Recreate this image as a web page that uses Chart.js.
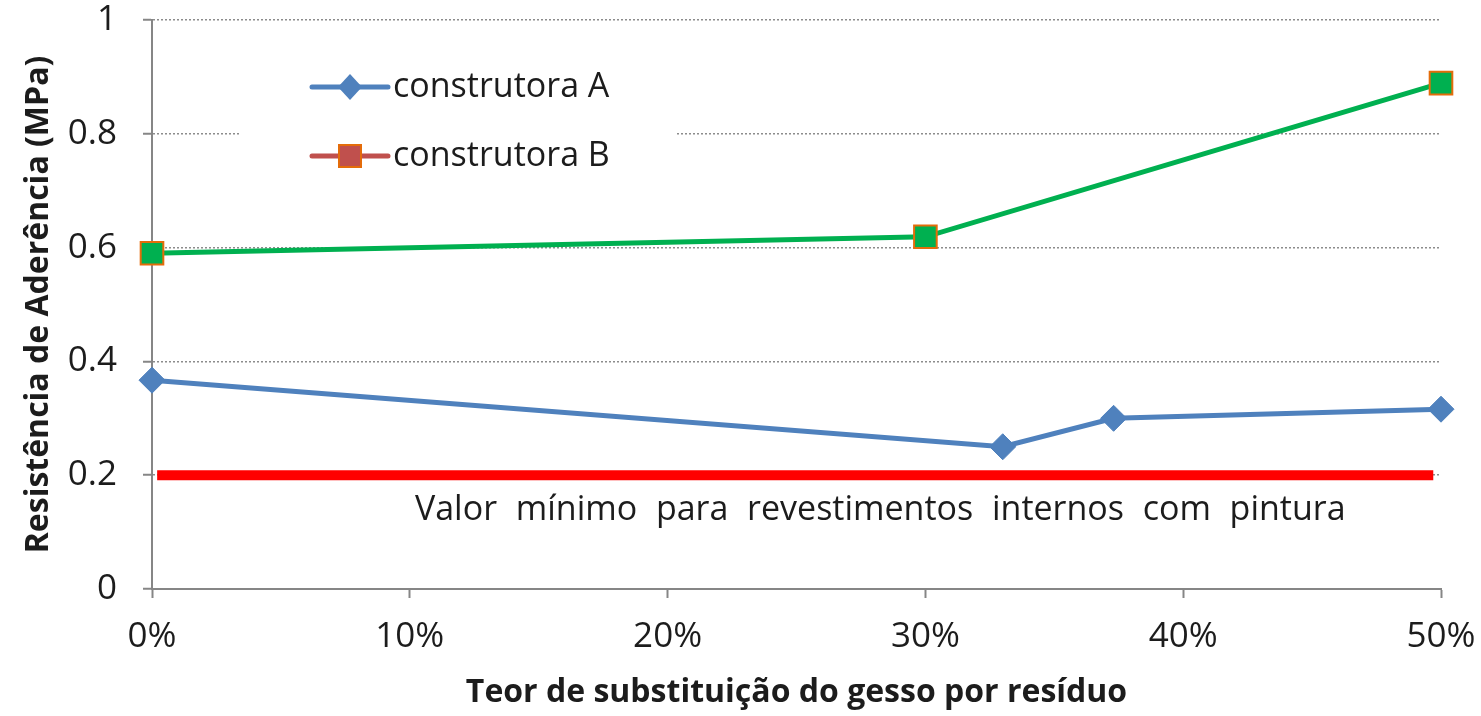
<!DOCTYPE html>
<html>
<head>
<meta charset="utf-8">
<script src="https://cdn.jsdelivr.net/npm/chart.js@4.4.0/dist/chart.umd.min.js"></script>
<style>
  html, body { margin: 0; padding: 0; background: #fff; }
  #wrap { width: 1481px; height: 716px; }
</style>
</head>
<body>
<div id="wrap"><canvas id="c"></canvas></div>
<script>
// Data
const xTicks = [0, 10, 20, 30, 40, 50];              // % substitution
const yTicks = [0, 0.2, 0.4, 0.6, 0.8, 1];
const construtoraA_x = [0, 33, 37.3, 50];
const construtoraA_y = [0.367, 0.25, 0.30, 0.316];
const construtoraB_x = [0, 30, 50];
const construtoraB_y = [0.59, 0.619, 0.889];
const minimo_x = [0.2, 49.7];
const minimo_y = [0.2, 0.2];
const minimoLabel = 'Valor mínimo para revestimentos internos com pintura';
const legendLabels = ['construtora A', 'construtora B'];

const FONT = '"Open Sans", sans-serif';
const TXT = '#1c1c1c';
const BLUE = '#4f81bd';
const GREEN = '#00b050';
const ORANGE = '#e46c0a';
const RED_LEG = '#c0504d';

const pts = (xs, ys) => xs.map((x, i) => ({ x: x, y: ys[i] }));

// legend drawn inside the plot, like the original
const insideLegend = {
    id: 'insideLegend',
    afterDatasetsDraw(chart) {
        const ctx = chart.ctx;
        ctx.save();
        ctx.fillStyle = '#fff';
        ctx.fillRect(240, 55, 435, 135);
        const rows = [
            { y: 87, color: BLUE, shape: 'diamond' },
            { y: 156, color: RED_LEG, shape: 'square' }
        ];
        rows.forEach((r, i) => {
            ctx.strokeStyle = r.color;
            ctx.lineWidth = 5;
            ctx.lineCap = 'round';
            ctx.beginPath();
            ctx.moveTo(312, r.y);
            ctx.lineTo(388, r.y);
            ctx.stroke();
            ctx.fillStyle = r.color;
            if (r.shape === 'diamond') {
                ctx.beginPath();
                ctx.moveTo(350, r.y - 13);
                ctx.lineTo(362, r.y);
                ctx.lineTo(350, r.y + 13);
                ctx.lineTo(338, r.y);
                ctx.closePath();
                ctx.fill();
            } else {
                ctx.fillRect(339, r.y - 11, 22, 22);
                ctx.strokeStyle = ORANGE;
                ctx.lineWidth = 2;
                ctx.strokeRect(339, r.y - 11, 22, 22);
            }
            ctx.fillStyle = TXT;
            ctx.font = '34px ' + FONT;
            ctx.textBaseline = 'middle';
            ctx.textAlign = 'left';
            ctx.fillText(legendLabels[i], 393, r.y);
        });
        ctx.restore();
    }
};

// text under the minimum line, words spread between two x values
const minimoText = {
    id: 'minimoText',
    afterDatasetsDraw(chart) {
        const { ctx, scales } = chart;
        const x0 = scales.x.getPixelForValue(10.2);
        const x1 = scales.x.getPixelForValue(46.3);
        const y = scales.y.getPixelForValue(0.138);
        ctx.save();
        ctx.font = '34px ' + FONT;
        ctx.fillStyle = TXT;
        ctx.textBaseline = 'middle';
        ctx.textAlign = 'left';
        const words = minimoLabel.split(' ');
        const total = words.reduce((s, w) => s + ctx.measureText(w).width, 0);
        const gap = (x1 - x0 - total) / (words.length - 1);
        let x = x0;
        words.forEach(w => {
            ctx.fillText(w, x, y);
            x += ctx.measureText(w).width + gap;
        });
        ctx.restore();
    }
};

new Chart(document.getElementById('c'), {
    type: 'scatter',
    data: {
        datasets: [
            {
                label: 'minimo',
                data: pts(minimo_x, minimo_y),
                showLine: true,
                borderColor: '#ff0000',
                borderWidth: 10,
                pointRadius: 0,
                borderCapStyle: 'butt',
                order: 3
            },
            {
                label: legendLabels[0],
                data: pts(construtoraA_x, construtoraA_y),
                showLine: true,
                clip: false,
                borderColor: BLUE,
                borderWidth: 5,
                pointStyle: 'rectRot',
                pointRadius: 13,
                pointBackgroundColor: BLUE,
                pointBorderColor: BLUE,
                pointBorderWidth: 1,
                order: 2
            },
            {
                label: legendLabels[1],
                data: pts(construtoraB_x, construtoraB_y),
                showLine: true,
                clip: false,
                borderColor: GREEN,
                borderWidth: 5,
                pointStyle: 'rect',
                pointRadius: 16,
                pointBackgroundColor: GREEN,
                pointBorderColor: ORANGE,
                pointBorderWidth: 2,
                order: 1
            }
        ]
    },
    options: {
        responsive: true,
        maintainAspectRatio: false,
        animation: false,
        layout: { padding: { top: 20, right: 40, left: 0, bottom: 0 } },
        plugins: { legend: { display: false }, tooltip: { enabled: false } },
        scales: {
            x: {
                type: 'linear',
                min: 0,
                max: 50,
                afterBuildTicks: s => { s.ticks = xTicks.map(v => ({ value: v })); },
                afterFit: s => { s.height = 127; s.paddingLeft = 0; s.paddingRight = 0; },
                border: { color: '#868686', width: 2 },
                grid: { drawOnChartArea: false, drawTicks: true, tickLength: 9, tickColor: '#868686', tickWidth: 2 },
                ticks: { color: TXT, font: { family: FONT, size: 35 }, padding: 18, maxRotation: 0, callback: v => v + '%' },
                title: { display: true, text: 'Teor de substituição do gesso por resíduo', color: TXT, font: { family: FONT, size: 32, weight: 'bold' }, padding: { top: 6 } }
            },
            y: {
                min: 0,
                max: 1,
                afterBuildTicks: s => { s.ticks = yTicks.map(v => ({ value: v })); },
                afterFit: s => { s.width = 152; s.paddingTop = 0; s.paddingBottom = 0; },
                border: { color: '#868686', width: 2, dash: [2, 2] },
                grid: { color: '#8c8c8c', lineWidth: 1.5, tickLength: 9, tickColor: '#868686', tickWidth: 2, tickBorderDash: [] },
                ticks: { color: TXT, font: { family: FONT, size: 35 }, padding: 26, callback: v => String(v) },
                title: { display: true, text: 'Resistência de Aderência (MPa)', color: TXT, font: { family: FONT, size: 32, weight: 'bold' }, padding: { top: 20, bottom: 0 } }
            }
        }
    },
    plugins: [insideLegend, minimoText]
});
</script>
</body>
</html>
